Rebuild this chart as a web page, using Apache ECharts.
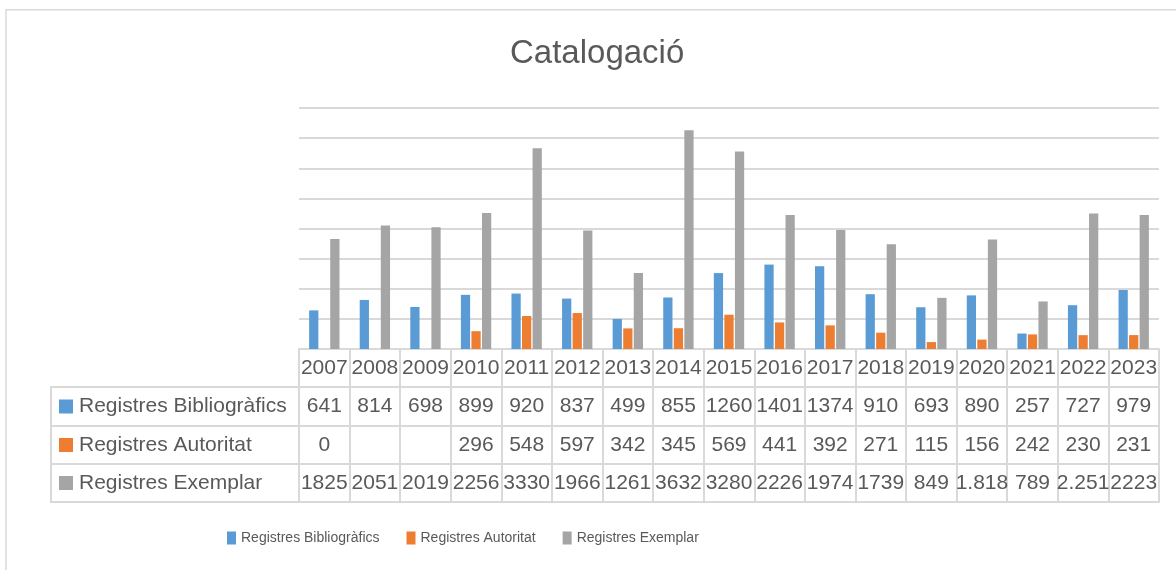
<!DOCTYPE html>
<html><head><meta charset="utf-8">
<script src="https://cdn.jsdelivr.net/npm/echarts@6/dist/echarts.min.js"></script>
<style>html,body{margin:0;padding:0;background:#fff}#c{width:1176px;height:570px}</style>
</head><body><div id="c"></div>
<script>
const titleText = 'Catalogació';
const years = ['2007','2008','2009','2010','2011','2012','2013','2014','2015','2016','2017','2018','2019','2020','2021','2022','2023'];
const seriesNames = ['Registres Bibliogràfics','Registres Autoritat','Registres Exemplar'];
const bibliografics = [641,814,698,899,920,837,499,855,1260,1401,1374,910,693,890,257,727,979];
const autoritat = [0,null,null,296,548,597,342,345,569,441,392,271,115,156,242,230,231];
const exemplar = [1825,2051,2019,2256,3330,1966,1261,3632,3280,2226,1974,1739,849,1818,789,2251,2223];
const bibLabels = ['641','814','698','899','920','837','499','855','1260','1401','1374','910','693','890','257','727','979'];
const autLabels = ['0','','','296','548','597','342','345','569','441','392','271','115','156','242','230','231'];
const exeLabels = ['1825','2051','2019','2256','3330','1966','1261','3632','3280','2226','1974','1739','849','1.818','789','2.251','2223'];
const yTicks = {min:0, max:4000, interval:500};

const colors = ['#5B9BD5','#ED7D31','#A5A5A5'];
const txt = '#595959';
const lineC = '#d9d9d9';
const FONT = "'Liberation Sans', Arial, sans-serif";
const GRID_LEFT = 299, GRID_RIGHT = 17, GRID_TOP = 108, GRID_BOTTOM_Y = 349;
const rowLines = [349, 387, 426, 464, 502];

function tableAxis(labels, idx) {
  const off = rowLines[idx] - rowLines[0];
  const h = rowLines[idx+1] - rowLines[idx];
  return {
    type:'category', data: labels, position:'bottom', offset: off, gridIndex:0,
    axisLine:{show:true, lineStyle:{color:lineC, width:2}},
    axisTick:{show:true, length:h, alignWithLabel:false, interval:0, lineStyle:{color:lineC, width:2}},
    axisLabel:{show:true, interval:0, margin: h/2, verticalAlign:'middle', color:txt, fontSize:21, fontFamily:FONT},
    splitLine:{show:false}
  };
}
const xAxes = [
  tableAxis(years, 0),
  tableAxis(bibLabels, 1),
  tableAxis(autLabels, 2),
  tableAxis(exeLabels, 3),
  {type:'category', data: years, position:'bottom', offset: rowLines[4]-rowLines[0],
   axisLine:{show:true, lineStyle:{color:lineC, width:2}}, axisTick:{show:false}, axisLabel:{show:false}}
];

const graphics = [];
graphics.push({type:'polyline', shape:{points:[[6,600],[6,9.75],[1200,9.75]]}, style:{stroke:lineC, lineWidth:1.5, fill:null}, silent:true});
for (let i=1;i<rowLines.length;i++) {
  graphics.push({type:'line', shape:{x1:51, y1:rowLines[i], x2:GRID_LEFT, y2:rowLines[i]}, style:{stroke:lineC, lineWidth:2}, silent:true});
}
graphics.push({type:'line', shape:{x1:51, y1:rowLines[1]-1, x2:51, y2:rowLines[4]+1}, style:{stroke:lineC, lineWidth:2}, silent:true});
seriesNames.forEach((n,i)=>{
  const cy = (rowLines[i+1]+rowLines[i+2])/2;
  graphics.push({type:'rect', shape:{x:59, y:cy-7, width:14, height:14}, style:{fill:colors[i]}, silent:true});
  graphics.push({type:'text', x:79, y:cy, style:{text:n, fill:txt, font:'21px '+FONT, verticalAlign:'middle', align:'left'}, silent:true});
});

const chart = echarts.init(document.getElementById('c'), null, {renderer:'canvas'});
chart.setOption({
  backgroundColor:'#fff',
  animation:false,
  color: colors,
  title:{text:titleText, left:510, top:37, padding:0, textStyle:{fontSize:33, fontWeight:'normal', color:txt, fontFamily:FONT}},
  legend:{data:seriesNames, left:222, top:526, icon:'rect', itemWidth:9, itemHeight:13, itemGap:27,
    textStyle:{fontSize:14, color:txt, fontFamily:FONT}},
  grid:{left:GRID_LEFT, right:GRID_RIGHT, top:GRID_TOP, bottom:570-GRID_BOTTOM_Y, containLabel:false},
  xAxis: xAxes,
  yAxis:{type:'value', min:yTicks.min, max:yTicks.max, interval:yTicks.interval,
    axisLine:{show:false}, axisTick:{show:false}, axisLabel:{show:false},
    splitLine:{show:true, lineStyle:{color:lineC, width:2}}},
  series:[
    {name:seriesNames[0], type:'bar', xAxisIndex:0, data:bibliografics, barGap:'14%', barCategoryGap:'40%'},
    {name:seriesNames[1], type:'bar', xAxisIndex:0, data:autoritat, barGap:'14%', barCategoryGap:'40%'},
    {name:seriesNames[2], type:'bar', xAxisIndex:0, data:exemplar, barGap:'14%', barCategoryGap:'40%'}
  ],
  graphic: graphics
});
</script></body></html>
